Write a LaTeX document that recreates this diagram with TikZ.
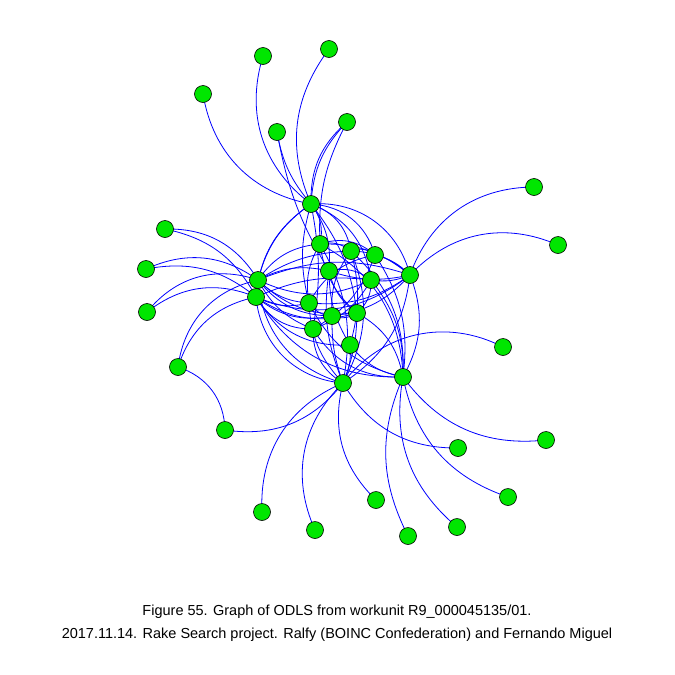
\documentclass[tikz,border=0pt]{standalone}
\usepackage{fontspec}
\setmainfont{Liberation Sans}
\begin{document}
\begin{tikzpicture}[x=1pt,y=1pt,
  v/.style={circle,draw=black,line width=0.6pt,fill={rgb,255:red,0;green,230;blue,0},minimum size=17pt,inner sep=0pt},
  e/.style={draw={rgb,255:red,0;green,0;blue,255},line width=0.8pt},
  captxt/.style={font=\fontsize{14.5}{17}\selectfont,inner sep=0pt,anchor=base}]
\useasboundingbox (0,0) rectangle (675,-675);
\foreach \n/\x/\y in {a1/263/56,a2/329/49,a3/203/94,a4/277/132,a5/347/122,
  h1/311/204,b1/165/229,b2/146/269,b3/147/312,h2/258/280,h3/256/297,
  c1/320/244,c2/351/251,c3/375/255,c4/329/271,c5/371/280,h4/410/275,
  c6/309/303,c7/332/316,c8/357/313,c9/313/329,c10/350/345,h5/343/383,h6/403/377,
  d1/534/187,d2/558/245,d3/503/347,e1/178/367,e2/225/430,
  f1/262/512,f2/315/530,f3/376/500,f4/408/536,f5/457/527,f6/508/497,f7/546/440,f8/458/448}
  {\coordinate (\n) at (\x,-\y);}
% outer edges
\draw[e] (a1) to[bend right=35] (h1);
\draw[e] (a2) to[bend right=30] (h1);
\draw[e] (a3) to[bend right=35] (h1);
\draw[e] (a4) to[bend right=15] (h1);
\draw[e] (a4) to[bend right=10] (c4);
\draw[e] (a5) to[bend right=25] (h1);
\draw[e] (a5) to[bend right=20] (h1);
\draw[e] (a5) to[bend right=15] (c1);
\draw[e] (b1) to[bend left=30] (h2);
\draw[e] (b1) to[bend left=25] (h3);
\draw[e] (b2) to[bend left=30] (h2);
\draw[e] (b2) to[bend left=25] (h3);
\draw[e] (b3) to[bend left=35] (h2);
\draw[e] (b3) to[bend left=30] (h3);
\draw[e] (e1) to[bend left=35] (h2);
\draw[e] (e1) to[bend left=30] (h3);
\draw[e] (e1) to[bend left=35] (e2);
\draw[e] (e2) to[bend right=30] (h5);
\draw[e] (f1) to[bend left=35] (h5);
\draw[e] (f2) to[bend left=35] (h5);
\draw[e] (f3) to[bend left=30] (h5);
\draw[e] (f8) to[bend left=30] (h5);
\draw[e] (f4) to[bend left=25] (h6);
\draw[e] (f5) to[bend left=30] (h6);
\draw[e] (f6) to[bend left=30] (h6);
\draw[e] (f7) to[bend left=30] (h6);
\draw[e] (d1) to[bend right=35] (h4);
\draw[e] (d2) to[bend right=35] (h4);
\draw[e] (d3) to[bend right=40] (h5);
% hub 1
\draw[e] (h1) to[bend left=25] (c1);
\draw[e] (h1) to[bend left=30] (c2);
\draw[e] (h1) to[bend left=35] (c3);
\draw[e] (h1) to[bend left=30] (c5);
\draw[e] (h1) to[bend left=40] (h4);
\draw[e] (h1) to[bend left=20] (c4);
\draw[e] (h1) to[bend right=15] (c6);
\draw[e] (h1) to[bend right=20] (h2);
\draw[e] (h1) to[bend right=25] (h3);
\draw[e] (h1) to[bend left=10] (c9);
\draw[e] (h1) to[bend left=15] (c8);
% hub 2 / 3
\draw[e] (h2) to[bend left=25] (c1);
\draw[e] (h2) to[bend left=20] (c4);
\draw[e] (h2) to[bend left=15] (c2);
\draw[e] (h2) to[bend right=20] (c6);
\draw[e] (h2) to[bend right=25] (c7);
\draw[e] (h2) to[bend right=25] (c8);
\draw[e] (h2) to[bend right=20] (c9);
\draw[e] (h2) to[bend left=20] (h4);
\draw[e] (h2) to[bend right=25] (c5);
\draw[e] (h3) to[bend right=20] (c6);
\draw[e] (h3) to[bend right=25] (c7);
\draw[e] (h3) to[bend right=25] (c8);
\draw[e] (h3) to[bend right=30] (c9);
\draw[e] (h3) to[bend right=30] (c10);
\draw[e] (h3) to[bend left=15] (c5);
\draw[e] (h3) to[bend right=40] (h5);
\draw[e] (h3) to[bend right=30] (h4);
% hub 4
\draw[e] (h4) to[bend right=20] (c1);
\draw[e] (h4) to[bend right=20] (c2);
\draw[e] (h4) to[bend right=15] (c3);
\draw[e] (h4) to[bend left=15] (c5);
\draw[e] (h4) to[bend left=20] (c6);
\draw[e] (h4) to[bend left=20] (c7);
\draw[e] (h4) to[bend left=25] (h6);
\draw[e] (h4) to[bend left=25] (h5);
\draw[e] (h4) to[bend left=15] (c4);
% hub 5
\draw[e] (h5) to[bend left=20] (c6);
\draw[e] (h5) to[bend left=10] (c7);
\draw[e] (h5) to[bend right=10] (c8);
\draw[e] (h5) to[bend left=30] (c9);
\draw[e] (h5) to[bend right=15] (c10);
\draw[e] (h5) to[bend left=15] (c4);
\draw[e] (h5) to[bend right=20] (c1);
\draw[e] (h5) to[bend right=25] (c2);
\draw[e] (h5) to[bend left=35] (h2);
% hub 6
\draw[e] (h6) to[bend left=20] (c10);
\draw[e] (h6) to[bend right=25] (c8);
\draw[e] (h6) to[bend left=30] (c9);
\draw[e] (h6) to[bend right=20] (c3);
\draw[e] (h6) to[bend right=25] (c2);
\draw[e] (h6) to[bend left=25] (c6);
\draw[e] (h6) to[bend left=30] (h3);
\draw[e] (h6) to[bend right=30] (c1);
\draw[e] (h6) to[bend right=20] (c5);
% core
\draw[e] (c1) to[bend left=25] (c2);
\draw[e] (c1) to[bend left=30] (c3);
\draw[e] (c2) to[bend left=30] (c3);
\draw[e] (c4) to[bend left=25] (c5);
\draw[e] (c4) to[bend right=20] (c8);
\draw[e] (c6) to[bend right=25] (c7);
\draw[e] (c7) to[bend right=25] (c8);
\draw[e] (c1) to[bend right=20] (c8);
\draw[e] (c2) to[bend right=20] (c7);
\draw[e] (c3) to[bend right=25] (c6);
\draw[e] (c5) to[bend left=20] (c9);
\draw[e] (c4) to[bend right=15] (c10);
\draw[e] (c2) to[bend left=15] (c10);
\draw[e] (c3) to[bend left=20] (c9);
\draw[e] (c1) to[bend right=20] (c6);
\draw[e] (c5) to[bend left=25] (c8);
% vertices
\foreach \n in {a1,a2,a3,a4,a5,h1,b1,b2,b3,h2,h3,c1,c2,c3,c4,c5,h4,c6,c7,c8,c9,c10,h5,h6,
  d1,d2,d3,e1,e2,f1,f2,f3,f4,f5,f6,f7,f8}
  {\node[v] (n\n) at (\n) {};}
\node[captxt] (t1) at (337,-615.7) {Figure 55. Graph of ODLS from workunit R9\_000045135/01.};
\node[captxt] (t2) at (337,-638.3) {2017.11.14. Rake Search project. Ralfy (BOINC Confederation) and Fernando Miguel};
\end{tikzpicture}
\end{document}
